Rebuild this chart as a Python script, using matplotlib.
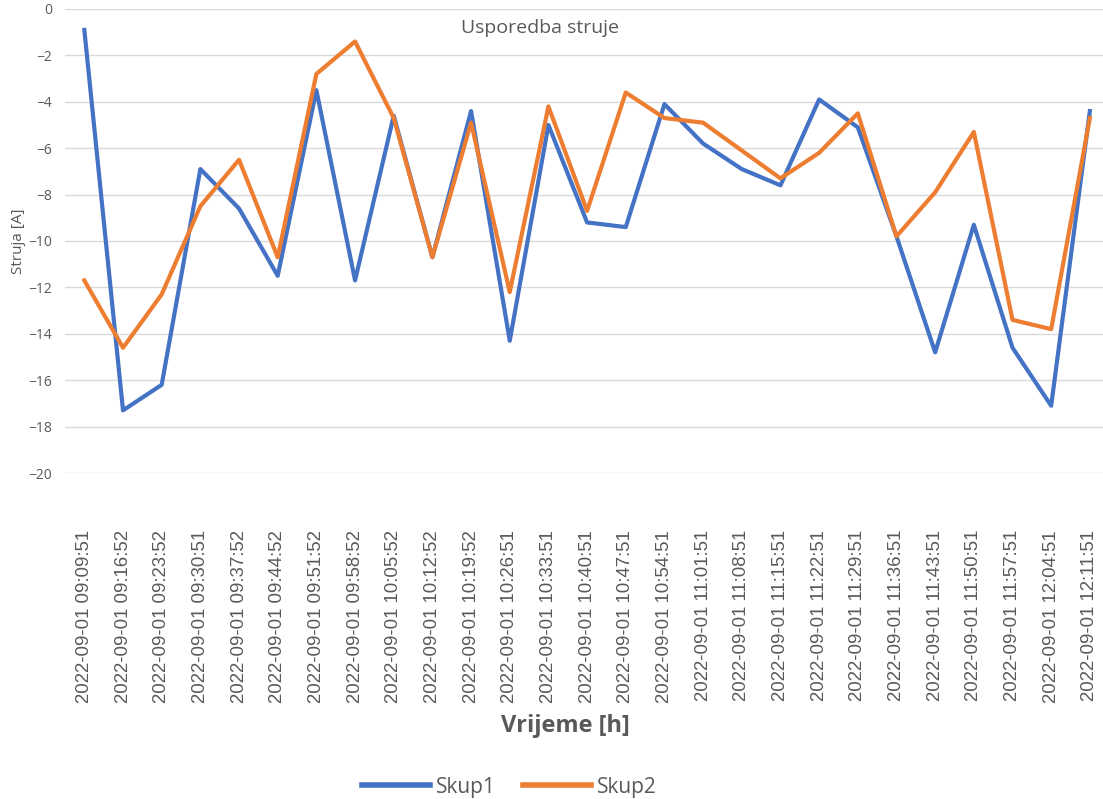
import matplotlib
matplotlib.use("Agg")
from matplotlib import pyplot as plt

# Vremena mjerenja (kategorije na x osi)
vremena = ['09:09:51', '09:16:52', '09:23:52', '09:30:51', '09:37:52', '09:44:52',
           '09:51:52', '09:58:52', '10:05:52', '10:12:52', '10:19:52', '10:26:51',
           '10:33:51', '10:40:51', '10:47:51', '10:54:51', '11:01:51', '11:08:51',
           '11:15:51', '11:22:51', '11:29:51', '11:36:51', '11:43:51', '11:50:51',
           '11:57:51', '12:04:51', '12:11:51']
oznake = ['2022-09-01 ' + v for v in vremena]

# Struja [A]
skup1 = [-0.9, -17.3, -16.2, -6.9, -8.6, -11.5, -3.5, -11.7, -4.6, -10.7,
         -4.4, -14.3, -5.0, -9.2, -9.4, -4.1, -5.8, -6.9, -7.6, -3.9,
         -5.1, -9.8, -14.8, -9.3, -14.6, -17.1, -4.4]
skup2 = [-11.7, -14.6, -12.3, -8.5, -6.5, -10.7, -2.8, -1.4, -4.7, -10.7,
         -4.9, -12.2, -4.2, -8.7, -3.6, -4.7, -4.9, -6.1, -7.3, -6.2,
         -4.5, -9.8, -7.9, -5.3, -13.4, -13.8, -4.7]

siva = '#595959'
font = ['Open Sans', 'DejaVu Sans']

fig = plt.figure(figsize=(11.03, 7.99), dpi=100)
ax = fig.add_axes([65 / 1103, 326 / 799, 1038 / 1103, 464 / 799])

x = list(range(len(oznake)))
ax.plot(x, skup1, color='#4472C4', lw=3, label='Skup1', solid_joinstyle='round')
ax.plot(x, skup2, color='#ED7D31', lw=3, label='Skup2', solid_joinstyle='round')

ax.set_ylim(-20, 0)
ax.set_yticks(range(-20, 1, 2))
ax.set_xlim(-0.5, 26.34)
ax.set_xticks(x)
ax.set_xticklabels(oznake, rotation=90, fontsize=13, color=siva,
                   family=['Liberation Sans', 'DejaVu Sans'])
for t in ax.get_yticklabels():
    t.set_family(font)
ax.tick_params(axis='y', length=0, pad=9, labelsize=10, labelcolor=siva)
ax.tick_params(axis='x', length=0, pad=40)

# fit the rotated date labels: about 173 px long, top edge near y=530 px
fig.canvas.draw()
r = fig.canvas.get_renderer()
lab = ax.get_xticklabels()[0]
bb = lab.get_window_extent(r)
size = 13 * 173 / bb.height
for t in ax.get_xticklabels():
    t.set_fontsize(size)
fig.canvas.draw()
bb = ax.get_xticklabels()[0].get_window_extent(r)
top_px = 799 - bb.y1
ax.tick_params(axis='x', pad=40 + (530 - top_px) * 72 / 100)

ax.grid(axis='y', color='#D9D9D9', lw=1)
ax.set_axisbelow(True)
for s in ax.spines.values():
    s.set_visible(False)

ax.text(0.458, 0.96, 'Usporedba struje', transform=ax.transAxes, ha='center', va='center',
        fontsize=14, color=siva, family=font)
fig.text(18 / 1103, 1 - 241 / 799, 'Struja [A]', rotation=90, ha='center', va='center',
         fontsize=11, color=siva, family=font)
fig.text(565 / 1103, 1 - 726 / 799, 'Vrijeme [h]', ha='center', va='center',
         fontsize=17, fontweight='bold', color=siva, family=font)

leg = fig.legend(loc='center', bbox_to_anchor=(509 / 1103, 1 - 787 / 799), ncol=2,
                 frameon=False, handlelength=3.3, handletextpad=0.25, columnspacing=1.3,
                 prop={'family': font, 'size': 15})
for t in leg.get_texts():
    t.set_color(siva)
for h in leg.get_lines():
    h.set_linewidth(4)

fig.savefig('out.png', dpi=100)
